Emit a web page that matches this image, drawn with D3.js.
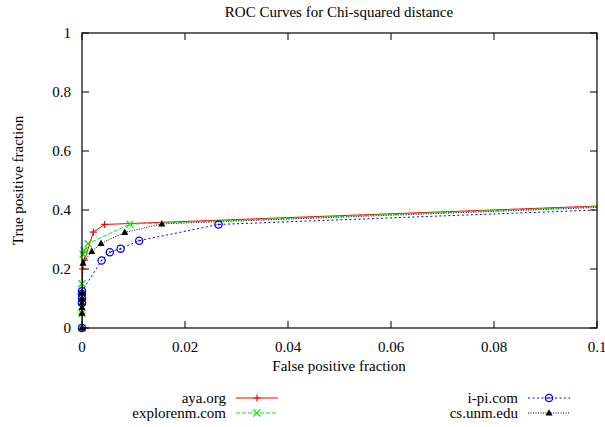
<!DOCTYPE html>
<html>
<head>
<meta charset="utf-8">
<script src="https://cdn.jsdelivr.net/npm/d3@7"></script>
<style>
  body { margin: 0; background: #fff; }
</style>
</head>
<body>
<div id="chart"></div>
<script>
'use strict';

// series: [false positive fraction, true positive fraction]
var ayaOrg = [[0, 0], [0, 0.05], [0, 0.1], [0, 0.12], [0.0001, 0.2], [0.0005, 0.23], [0.0022, 0.325], [0.0044, 0.351], [1, 1]];
var exploreNm = [[0, 0], [0, 0.05], [0, 0.15], [0.0002, 0.25], [0.0004, 0.262], [0.0012, 0.286], [0.0093, 0.352], [1, 1]];
var iPiCom = [[0, 0], [0, 0.085], [0, 0.1], [0, 0.115], [0, 0.125], [0.0038, 0.229], [0.0054, 0.257], [0.0075, 0.269], [0.0111, 0.296], [0.0265, 0.351], [1, 1]];
var csUnmEdu = [[0, 0], [0, 0.05], [0, 0.07], [0, 0.085], [0, 0.1], [0, 0.12], [0.0002, 0.22], [0.0019, 0.26], [0.0037, 0.287], [0.0083, 0.324], [0.0155, 0.353], [1, 1]];

var seriesNames = ['aya.org', 'explorenm.com', 'i-pi.com', 'cs.unm.edu'];
var xTicks = [0, 0.02, 0.04, 0.06, 0.08, 0.1];
var yTicks = [0, 0.2, 0.4, 0.6, 0.8, 1];

var width = 605, height = 427;
var margin = {top: 33, right: 8, bottom: 99, left: 82};
var fontFamily = "'Liberation Serif', 'Times New Roman', serif";

var series = [
  {name: seriesNames[0], values: ayaOrg, color: '#ff0000', dash: null, mark: 'plus'},
  {name: seriesNames[1], values: exploreNm, color: '#00e600', dash: '4,2', mark: 'cross'},
  {name: seriesNames[2], values: iPiCom, color: '#0000ff', dash: '2,2.5', mark: 'circle'},
  {name: seriesNames[3], values: csUnmEdu, color: '#000000', dash: '1,1.5', mark: 'triangle'}
];

var svg = d3.select('#chart').append('svg')
  .attr('width', width)
  .attr('height', height);

function label(g, tx, ty, str, anchor) {
  return g.append('text')
    .attr('x', tx).attr('y', ty)
    .attr('text-anchor', anchor || 'middle')
    .style('font-family', fontFamily)
    .style('font-size', '15px')
    .style('fill', '#000')
    .text(str);
}

var x = d3.scaleLinear().domain([0, 0.1]).range([margin.left, width - margin.right]);
var y = d3.scaleLinear().domain([0, 1]).range([height - margin.bottom, margin.top]);

svg.append('defs').append('clipPath').attr('id', 'plotclip')
  .append('rect')
  .attr('x', x(0)).attr('y', y(1))
  .attr('width', x(0.1) - x(0)).attr('height', y(0) - y(1));

// title
label(svg, 339, 17, 'ROC Curves for Chi-squared distance');

// ticks (gnuplot style, inward and mirrored)
var tickLen = 7;
var axes = svg.append('g');
xTicks.forEach(function(t) {
  axes.append('line').attr('x1', x(t)).attr('x2', x(t)).attr('y1', y(0)).attr('y2', y(0) - tickLen).attr('stroke', '#000');
  axes.append('line').attr('x1', x(t)).attr('x2', x(t)).attr('y1', y(1)).attr('y2', y(1) + tickLen).attr('stroke', '#000');
  label(axes, x(t), y(0) + 24, d3.format('~g')(t));
});
yTicks.forEach(function(t) {
  axes.append('line').attr('x1', x(0)).attr('x2', x(0) + tickLen).attr('y1', y(t)).attr('y2', y(t)).attr('stroke', '#000');
  axes.append('line').attr('x1', x(0.1)).attr('x2', x(0.1) - tickLen).attr('y1', y(t)).attr('y2', y(t)).attr('stroke', '#000');
  label(axes, 71, y(t) + 5, d3.format('~g')(t), 'end');
});

label(axes, 339, 371, 'False positive fraction');
label(axes, 0, 0, 'True positive fraction')
  .attr('transform', 'translate(23,' + ((y(0) + y(1)) / 2) + ') rotate(-90)');

var line = d3.line()
  .x(function(d) { return x(d[0]); })
  .y(function(d) { return y(d[1]); });

function drawMark(g, kind, color, cx, cy) {
  var s = 3.5;
  if (kind === 'plus') {
    g.append('path').attr('d', 'M' + (cx - s) + ',' + cy + 'H' + (cx + s) + 'M' + cx + ',' + (cy - s) + 'V' + (cy + s))
      .attr('stroke', color).attr('stroke-width', 1.2).attr('fill', 'none');
  } else if (kind === 'cross') {
    g.append('path').attr('d', 'M' + (cx - s) + ',' + (cy - s) + 'L' + (cx + s) + ',' + (cy + s) + 'M' + (cx - s) + ',' + (cy + s) + 'L' + (cx + s) + ',' + (cy - s))
      .attr('stroke', color).attr('stroke-width', 1.2).attr('fill', 'none');
  } else if (kind === 'circle') {
    g.append('circle').attr('cx', cx).attr('cy', cy).attr('r', 3.6)
      .attr('stroke', color).attr('stroke-width', 1.3).attr('fill', 'none');
    g.append('circle').attr('cx', cx).attr('cy', cy).attr('r', 0.9).attr('fill', color);
  } else {
    g.append('path').attr('d', 'M' + cx + ',' + (cy - 3.8) + 'L' + (cx + 3.5) + ',' + (cy + 2.6) + 'L' + (cx - 3.5) + ',' + (cy + 2.6) + 'Z')
      .attr('fill', color);
  }
}

var plot = svg.append('g');
series.forEach(function(s) {
  plot.append('path')
    .datum(s.values)
    .attr('clip-path', 'url(#plotclip)')
    .attr('d', line)
    .attr('fill', 'none')
    .attr('stroke', s.color)
    .attr('stroke-width', 1)
    .attr('stroke-dasharray', s.dash);
  var mg = plot.append('g');
  s.values.filter(function(d) { return d[0] <= 0.1 && d[1] <= 1; }).forEach(function(d) {
    drawMark(mg, s.mark, s.color, x(d[0]), y(d[1]));
  });
});

// border
svg.append('rect')
  .attr('x', x(0)).attr('y', y(1))
  .attr('width', x(0.1) - x(0)).attr('height', y(0) - y(1))
  .attr('fill', 'none').attr('stroke', '#000').attr('stroke-width', 1.2);

// legend, two columns
var legendPos = [[226, 398], [226, 413], [518, 398], [518, 413]];
seriesNames.forEach(function(name, k) {
  var s = series[k], p = legendPos[k];
  var lg = svg.append('g');
  label(lg, p[0], p[1] + 5, name, 'end');
  lg.append('line')
    .attr('x1', p[0] + 10).attr('x2', p[0] + 52)
    .attr('y1', p[1]).attr('y2', p[1])
    .attr('stroke', s.color).attr('stroke-width', 1)
    .attr('stroke-dasharray', s.dash);
  drawMark(lg, s.mark, s.color, p[0] + 31, p[1]);
});
</script>
</body>
</html>
